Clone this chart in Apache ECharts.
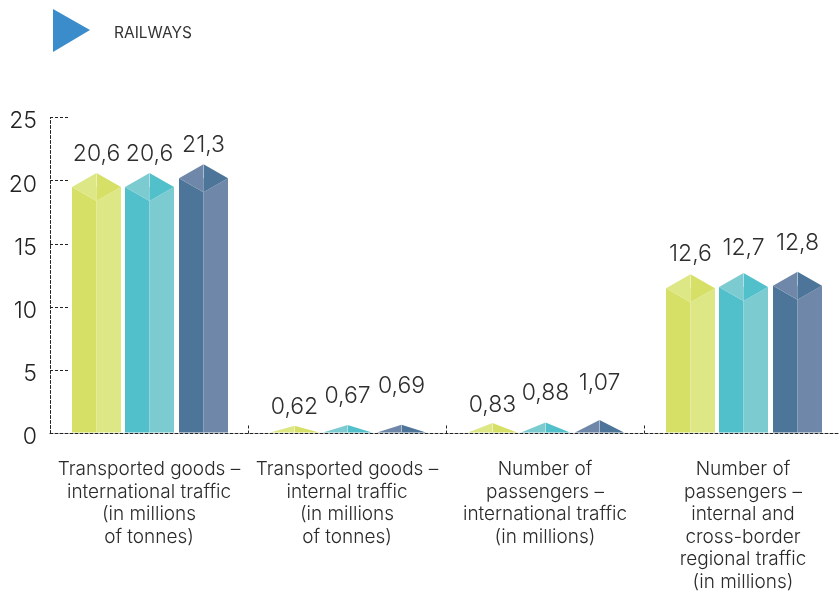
<!DOCTYPE html>
<html>
<head>
<meta charset="utf-8">
<style>html,body{margin:0;padding:0;background:#fff}#chart{width:839px;height:591px}</style>
<script src="https://cdn.jsdelivr.net/npm/echarts@6/dist/echarts.min.js"></script>
</head>
<body>
<div id="chart"></div>
<script>
// Railway traffic indicators, three yearly columns per category
const categories = [
  'Transported goods –\ninternational traffic\n(in millions\nof tonnes)',
  'Transported goods –\ninternal traffic\n(in millions\nof tonnes)',
  'Number of\npassengers –\ninternational traffic\n(in millions)',
  'Number of\npassengers –\ninternal and\ncross-border\nregional traffic\n(in millions)'
];
const limeValues = [20.6, 0.62, 0.83, 12.6];
const tealValues = [20.6, 0.67, 0.88, 12.7];
const blueValues = [21.3, 0.69, 1.07, 12.8];

// Height of each value label above its column, staggered where columns are short
const labelLift = [
  [19, 19, 18, 20],
  [19, 29, 29, 25],
  [19, 39, 37, 29]
];

const palettes = [
  { dark: '#d6e066', light: '#dde785' },
  { dark: '#52c0ca', light: '#7ccbd1' },
  { dark: '#4c7599', light: '#6f88a9' }
];
const columnOffset = [-52.5, 0.5, 54.5];
const HALF_WIDTH = 24.5;
const ROOF = 14;
const FONT = 'Inter, sans-serif';

function prismSeries(name, values, idx) {
  return {
    name,
    type: 'custom',
    clip: false,
    data: values,
    encode: { x: 0, y: 1 },
    renderItem(params, api) {
      const cat = params.dataIndex;
      const value = values[cat];
      const base = api.coord([cat, 0]);
      const top = api.coord([cat, value]);
      const cx = base[0] + columnOffset[idx];
      const xL = cx - HALF_WIDTH, xR = cx + HALF_WIDTH;
      const yBase = base[1] - 1;
      const yTop = top[1];
      const colour = palettes[idx];
      const roof = Math.min(ROOF, yBase - yTop);
      const ySide = yTop + roof;
      const children = [];
      const poly = (points, fill) => children.push({
        type: 'polygon', shape: { points }, style: { fill }
      });
      if (yBase - yTop > ROOF * 2) {
        const yFront = yTop + ROOF * 2;
        poly([[xL, ySide], [cx, yFront], [cx, yBase], [xL, yBase]], colour.dark);
        poly([[cx, yFront], [xR, ySide], [xR, yBase], [cx, yBase]], colour.light);
        poly([[xL, ySide], [cx, yTop], [cx, yFront]], colour.light);
        poly([[cx, yTop], [xR, ySide], [cx, yFront]], colour.dark);
      } else {
        // Short columns show only the roof ridge above the baseline
        poly([[xL, ySide], [cx, yTop], [cx, ySide]], colour.light);
        poly([[cx, yTop], [xR, ySide], [cx, ySide]], colour.dark);
      }
      children.push({
        type: 'line',
        shape: { x1: cx, y1: yTop, x2: cx, y2: ySide },
        style: { stroke: 'rgba(255,255,255,0.35)', lineWidth: 1 }
      });
      children.push({
        type: 'text',
        style: {
          x: cx, y: yTop - labelLift[idx][cat],
          text: String(value).replace('.', ','),
          fill: '#2e2e2e', font: '300 23px ' + FONT,
          align: 'center', verticalAlign: 'middle'
        }
      });
      return { type: 'group', children };
    }
  };
}

const chart = echarts.init(document.getElementById('chart'), null, { renderer: 'canvas' });
chart.setOption({
  animation: false,
  backgroundColor: '#ffffff',
  title: {
    text: 'RAILWAYS', left: 114, top: 25, padding: 0,
    textStyle: { fontFamily: FONT, fontSize: 15.5, fontWeight: 400, color: '#333333' }
  },
  graphic: [{
    type: 'polygon',
    shape: { points: [[53, 9], [90, 30], [53, 52]] },
    style: { fill: '#3a8ccb' }
  }],
  grid: { left: 50, width: 792, top: 117.5, height: 316, outerBoundsMode: 'none' },
  xAxis: {
    type: 'category',
    data: categories,
    axisLine: { lineStyle: { color: '#222222', type: [3, 2], width: 1 } },
    axisTick: { show: true, inside: true, length: 8, alignWithLabel: false,
      lineStyle: { color: '#222222', type: [3, 2], width: 1 } },
    axisLabel: { interval: 0, margin: 25, color: '#2a2a2a', fontFamily: FONT,
      fontSize: 19, fontWeight: 300, lineHeight: 22.5, align: 'center', verticalAlign: 'top' }
  },
  yAxis: {
    type: 'value', min: 0, max: 25, interval: 5,
    splitLine: { show: false },
    axisLine: { show: true, lineStyle: { color: '#222222', type: [3, 2], width: 1 } },
    axisTick: { show: true, inside: true, length: 20,
      lineStyle: { color: '#222222', type: [3, 2], width: 1 } },
    axisLabel: { margin: 13, color: '#222222', fontFamily: FONT, fontSize: 23, fontWeight: 300,
      verticalAlign: 'top', lineHeight: 8 }
  },
  series: [
    prismSeries('Lime', limeValues, 0),
    prismSeries('Teal', tealValues, 1),
    prismSeries('Blue', blueValues, 2)
  ]
});
</script>
</body>
</html>
